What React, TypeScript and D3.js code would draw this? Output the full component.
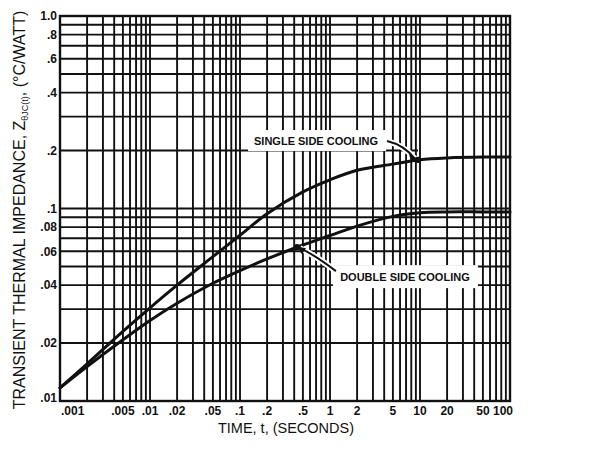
import React from "react";
import * as d3 from "d3";

// ---- data ----
const timeTicks = [0.001, 0.005, 0.01, 0.02, 0.05, 0.1, 0.2, 0.5, 1, 2, 5, 10, 20, 50, 100];
const timeTickLabels = [".001", ".005", ".01", ".02", ".05", ".1", ".2", ".5", "1", "2", "5", "10", "20", "50", "100"];
const impTicks = [1, 0.8, 0.6, 0.4, 0.2, 0.1, 0.08, 0.06, 0.04, 0.02, 0.01];
const impTickLabels = ["1.0", ".8", ".6", ".4", ".2", ".1", ".08", ".06", ".04", ".02", ".01"];

const times = [0.001, 0.002, 0.005, 0.01, 0.02, 0.05, 0.1, 0.2, 0.5, 1, 2, 5, 10, 20, 50, 100];
const singleSide = [0.0117, 0.0156, 0.023, 0.0305, 0.04, 0.0562, 0.0726, 0.094, 0.122, 0.141, 0.158, 0.17, 0.179, 0.183, 0.185, 0.185];
const doubleSide = [0.0117, 0.0151, 0.0208, 0.0262, 0.0322, 0.0409, 0.0476, 0.0547, 0.0646, 0.0724, 0.081, 0.091, 0.095, 0.096, 0.096, 0.096];

const singleLabel = "SINGLE SIDE COOLING";
const doubleLabel = "DOUBLE SIDE COOLING";
const singleDot = { t: 9.5, z: 0.179 };
const doubleDot = { t: 0.43, z: 0.063 };
const singleLabelAt = { t: 0.7, z: 0.224 };
const doubleLabelAt = { t: 6.8, z: 0.044 };

const xTitle = "TIME, t, (SECONDS)";

export default function App() {
  const W = 613, H = 450;
  const L = 60, R = 510, T = 16, B = 401;
  const x = d3.scaleLog().domain([0.001, 100]).range([L, R]);
  const y = d3.scaleLog().domain([0.01, 1]).range([B, T]);
  const xGrid = x.ticks();
  const yGrid = y.ticks();
  const line = d3
    .line<number>()
    .x((_, i) => x(times[i]))
    .y((d) => y(d))
    .curve(d3.curveCatmullRom.alpha(0.5));

  const ink = "#111";
  const font = "'Liberation Sans', Arial, Helvetica, sans-serif";

  // label boxes
  const sx = x(singleLabelAt.t), sy = y(singleLabelAt.z);
  const dx = x(doubleLabelAt.t), dy = y(doubleLabelAt.z);
  const sBox = { x: sx - 68, y: sy - 11, w: 138, h: 21 };
  const dBox = { x: dx - 72, y: dy - 12, w: 145, h: 23 };

  const sdx = x(singleDot.t), sdy = y(singleDot.z);
  const ddx = x(doubleDot.t), ddy = y(doubleDot.z);

  const sArrow = `M${sBox.x + sBox.w + 1},${sy} Q${sdx - 14},${sy + 4} ${sdx - 3},${sdy - 1}`;
  const dArrow = `M${dBox.x + 3},${dBox.y + 6} Q${ddx + 18},${ddy + 8} ${ddx + 3},${ddy + 1}`;

  return (
    <svg width={W} height={H} style={{ position: "absolute", left: 0, top: 0, background: "#fff" }}>
      <rect x={0} y={0} width={W} height={H} fill="#fff" />
      {/* vertical grid */}
      {xGrid.map((t, i) => (
        <line key={"vx" + i} x1={x(t)} x2={x(t)} y1={T} y2={B} stroke={ink} strokeWidth={1.9} />
      ))}
      {/* horizontal grid */}
      {yGrid.map((z, i) => (
        <line
          key={"hy" + i}
          x1={L}
          x2={Math.abs(z - 0.2) < 1e-9 ? sdx : R}
          y1={y(z)}
          y2={y(z)}
          stroke={ink}
          strokeWidth={1.9}
        />
      ))}
      {/* frame */}
      <rect x={L} y={T} width={R - L} height={B - T} fill="none" stroke={ink} strokeWidth={2.4} />

      {/* knockouts behind labels */}
      <rect x={sBox.x} y={sBox.y} width={sBox.w} height={sBox.h} fill="#fff" />
      <rect x={dBox.x} y={dBox.y} width={dBox.w} height={dBox.h} fill="#fff" />

      {/* curves */}
      <path d={line(singleSide) || ""} fill="none" stroke={ink} strokeWidth={3} strokeLinecap="round" />
      <path d={line(doubleSide) || ""} fill="none" stroke={ink} strokeWidth={3} strokeLinecap="round" />

      {/* arrows */}
      <path d={sArrow} fill="none" stroke="#fff" strokeWidth={6} />
      <path d={sArrow} fill="none" stroke={ink} strokeWidth={2} />
      <path d={dArrow} fill="none" stroke="#fff" strokeWidth={6} />
      <path d={dArrow} fill="none" stroke={ink} strokeWidth={2} />
      <circle cx={sdx} cy={sdy} r={3.2} fill={ink} />
      <circle cx={ddx} cy={ddy} r={3.2} fill={ink} />
      <path d={`M${sdx + 1},${sdy} L${sdx - 9},${sdy - 6} L${sdx - 7},${sdy + 2} Z`} fill={ink} />
      <path d={`M${ddx - 1},${ddy - 1} L${ddx + 9},${ddy + 1} L${ddx + 5},${ddy + 7} Z`} fill={ink} />

      {/* labels */}
      <text x={sx} y={sy} dy="0.36em" textAnchor="middle" fontFamily={font} fontWeight="bold" fontSize={11} fill={ink}>
        {singleLabel}
      </text>
      <text x={dx} y={dy} dy="0.36em" textAnchor="middle" fontFamily={font} fontWeight="bold" fontSize={11} fill={ink}>
        {doubleLabel}
      </text>

      {/* x tick labels */}
      {timeTicks.map((t, i) => (
        <text
          key={"xt" + i}
          x={i === 0 ? x(t) + 1 : i === timeTicks.length - 1 ? x(t) + 3 : x(t)}
          y={B + 14}
          textAnchor={i === 0 ? "start" : i === timeTicks.length - 1 ? "end" : "middle"}
          fontFamily={font}
          fontWeight="bold"
          fontSize={12}
          fill={ink}
        >
          {timeTickLabels[i]}
        </text>
      ))}
      {/* y tick labels */}
      {impTicks.map((z, i) => (
        <text
          key={"yt" + i}
          x={L - 3}
          y={y(z)}
          dy={i === impTicks.length - 1 ? "0.1em" : "0.36em"}
          textAnchor="end"
          fontFamily={font}
          fontWeight="bold"
          fontSize={12}
          fill={ink}
        >
          {impTickLabels[i]}
        </text>
      ))}

      {/* axis titles */}
      <text x={(L + R) / 2 + 1} y={433} textAnchor="middle" fontFamily={font} fontSize={14.5} fill={ink}>
        {xTitle}
      </text>
      <text
        transform="rotate(-90)"
        x={-210}
        y={25}
        textAnchor="middle"
        fontFamily={font}
        fontSize={16}
        fill={ink}
      >
        TRANSIENT THERMAL IMPEDANCE, Z
        <tspan fontSize={9} dy={3}>θJC(t)</tspan>
        <tspan dy={-3}>, (°C/WATT)</tspan>
      </text>
    </svg>
  );
}
